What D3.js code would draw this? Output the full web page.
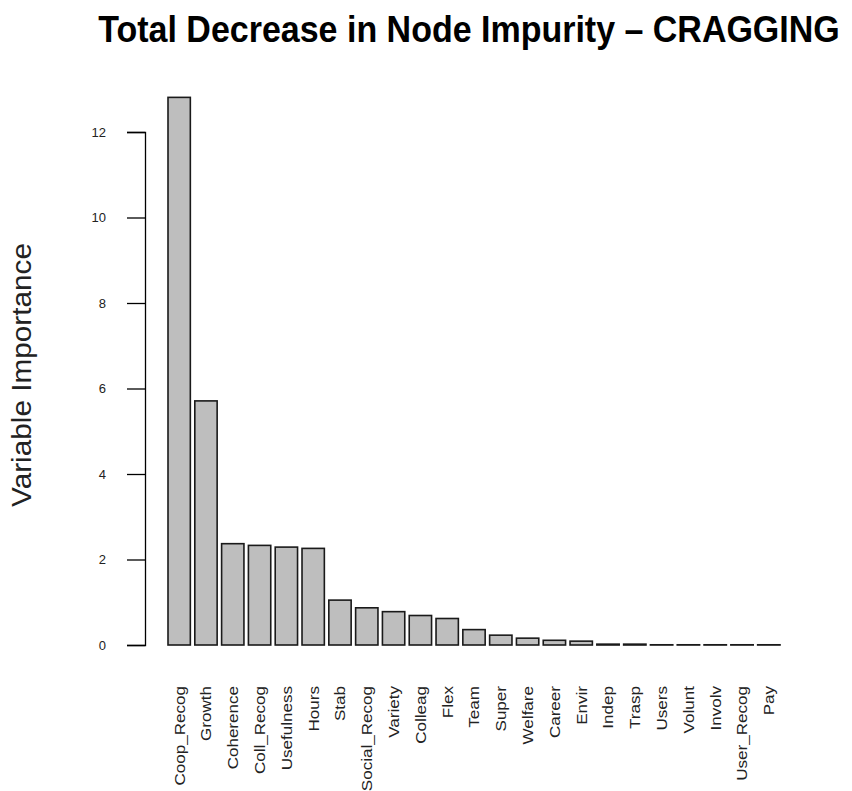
<!DOCTYPE html>
<html>
<head>
<meta charset="utf-8">
<script src="https://cdn.jsdelivr.net/npm/d3@7"></script>
<style>
  body { margin: 0; background: #fff; }
  svg { display: block; }
</style>
</head>
<body>
<div id="chart"></div>
<script>
// variables, in the order the bars are drawn
var categories = ["Coop_Recog", "Growth", "Coherence", "Coll_Recog", "Usefulness", "Hours",
	"Stab", "Social_Recog", "Variety", "Colleag", "Flex", "Team", "Super", "Welfare",
	"Career", "Envir", "Indep", "Trasp", "Users", "Volunt", "Involv", "User_Recog", "Pay"];

// total decrease in node impurity
var importance = [12.81, 5.71, 2.37, 2.33, 2.29, 2.26, 1.05, 0.87, 0.78, 0.69, 0.62,
	0.36, 0.23, 0.16, 0.11, 0.09, 0.02, 0.02, 0.005, 0.005, 0.005, 0.005, 0.005];

var yTicks = [0, 2, 4, 6, 8, 10, 12];

var width = 852,
	height = 791;

var svg = d3.select("#chart").append("svg")
	.attr("width", width)
	.attr("height", height)
	.style("font-family", "'Liberation Sans', Arial, Helvetica, sans-serif");

// scales
var x = d3.scaleBand()
	.domain(categories)
	.range([168, 780])
	.paddingInner(1 / 6)
	.paddingOuter(0);

var y = d3.scaleLinear()
	.domain([0, 12])
	.range([645, 132]);

// bars
svg.append("g").selectAll("rect")
	.data(importance)
	.enter().append("rect")
	.attr("x", function(d, i) { return x(categories[i]); })
	.attr("width", x.bandwidth())
	.attr("y", function(d) { return y(d); })
	.attr("height", function(d) { return y(0) - y(d); })
	.style("fill", "#bebebe")
	.style("stroke", "#1a1a1a")
	.style("stroke-width", 1.6);

// y axis, R style: line only spans the ticks
var yAxis = d3.axisLeft(y)
	.tickValues(yTicks)
	.tickFormat(d3.format("d"))
	.tickSize(18)
	.tickPadding(21);

var gy = svg.append("g")
	.attr("transform", "translate(145,0)")
	.call(yAxis);

gy.select(".domain").attr("stroke", "#000").attr("stroke-width", 1.3);
gy.selectAll(".tick line").attr("stroke", "#000").attr("stroke-width", 1.3);
gy.selectAll(".tick text")
	.style("font-size", "13px")
	.style("font-family", "'Liberation Sans', Arial, sans-serif")
	.attr("fill", "#222");

// x labels, vertical, a bit stretched along the text like the original
svg.append("g").selectAll("text")
	.data(categories)
	.enter().append("text")
	.attr("transform", function(d) {
		return "translate(" + (x(d) + x.bandwidth() / 2) + ",686) rotate(-90) scale(1.1,1)";
	})
	.attr("text-anchor", "end")
	.attr("dy", "0.35em")
	.style("font-size", "15.5px")
	.attr("fill", "#222")
	.text(function(d) { return d; });

// y axis title
svg.append("text")
	.attr("transform", "translate(31,375) rotate(-90)")
	.attr("text-anchor", "middle")
	.attr("textLength", 264)
	.attr("lengthAdjust", "spacingAndGlyphs")
	.style("font-size", "27px")
	.attr("fill", "#222")
	.text("Variable Importance");

// chart title, slightly taller glyphs like the original
svg.append("text")
	.attr("transform", "translate(469,42) scale(1,1.06)")
	.attr("text-anchor", "middle")
	.style("font-size", "34px")
	.style("font-weight", "bold")
	.text("Total Decrease in Node Impurity – CRAGGING");
</script>
</body>
</html>
